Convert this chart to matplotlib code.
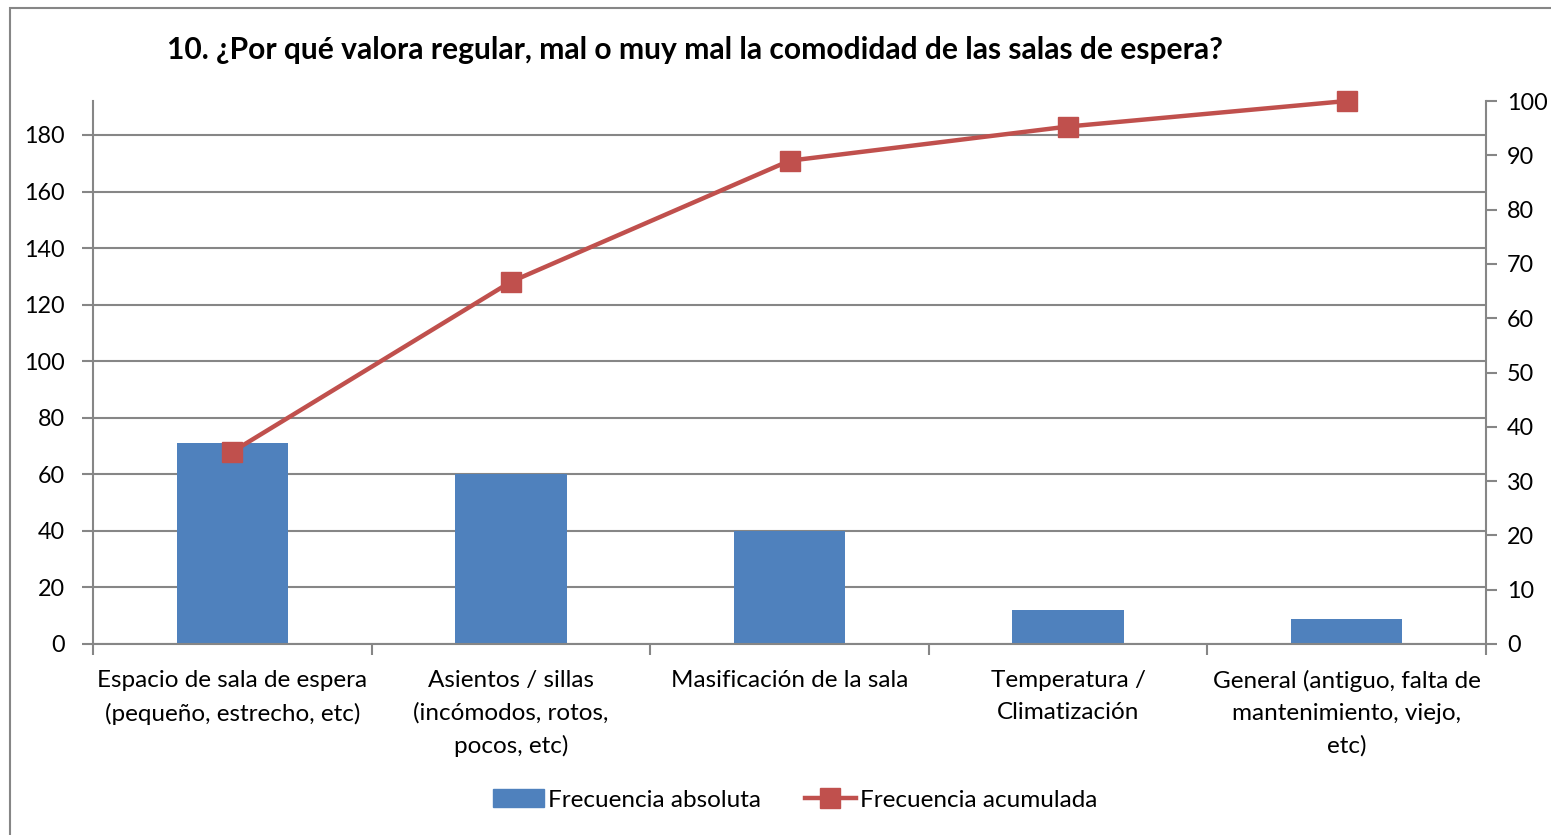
import matplotlib
matplotlib.use("Agg")
import matplotlib.pyplot as plt
from matplotlib.patches import Rectangle
from matplotlib.lines import Line2D
import numpy as np

plt.rcParams['font.family'] = ['Lato', 'DejaVu Sans']

title = "10. ¿Por qué valora regular, mal o muy mal la comodidad de las salas de espera?"
categories = [
    "Espacio de sala de espera\n(pequeño, estrecho, etc)",
    "Asientos / sillas\n(incómodos, rotos,\npocos, etc)",
    "Masificación de la sala",
    "Temperatura /\nClimatización",
    "General (antiguo, falta de\nmantenimiento, viejo,\netc)",
]
freq_abs = [71, 60, 40, 12, 9]
freq_acum = [35.4, 66.7, 89.0, 95.3, 100.0]
left_ticks = [0, 20, 40, 60, 80, 100, 120, 140, 160, 180]
right_ticks = [0, 10, 20, 30, 40, 50, 60, 70, 80, 90, 100]
legend_labels = ["Frecuencia absoluta", "Frecuencia acumulada"]

W, H = 1551, 835
fig = plt.figure(figsize=(W / 100, H / 100), dpi=100)
fig.patch.set_facecolor('white')

# outer chart border (extends past image right/bottom)
fig.add_artist(Rectangle((10 / W, -0.05), 1.2, 1 - 8 / H + 0.05,
                         transform=fig.transFigure, fill=False,
                         edgecolor='#868686', linewidth=1.5))

ax = fig.add_axes([93 / W, 1 - 644 / H, (1486 - 93) / W, (644 - 101) / H])
ax2 = ax.twinx()

x = np.arange(len(categories))
grid_c = '#868686'
ax.bar(x, freq_abs, width=0.40, color='#4F81BD', zorder=2)
ax.set_xlim(-0.5, len(categories) - 0.5)
ax.set_ylim(0, 192)
ax.set_yticks(left_ticks)
ax.yaxis.grid(True, color=grid_c, linewidth=1.5, zorder=0)
ax.set_axisbelow(True)

ax2.plot(x, freq_acum, color='#C0504D', linewidth=3.2, marker='s',
         markersize=14, markerfacecolor='#C0504D', markeredgecolor='#C0504D',
         zorder=3, clip_on=False)
ax2.set_ylim(0, 100)
ax2.set_yticks(right_ticks)

for a in (ax, ax2):
    a.spines['top'].set_visible(False)
    for s in ('left', 'right', 'bottom'):
        a.spines[s].set_color(grid_c)
        a.spines[s].set_linewidth(1.5)
ax.spines['right'].set_visible(False)
ax2.spines['left'].set_visible(False)
ax2.spines['bottom'].set_visible(False)

fs = 17.5
yfs = 16.8
ax.set_xticks(x)
ax.set_xticklabels(categories, fontsize=fs, linespacing=1.62)
ax.tick_params(axis='x', length=0, pad=19)
ax.set_xticks(np.arange(len(categories) + 1) - 0.5, minor=True)
ax.tick_params(axis='x', which='minor', length=8, width=1.5, color=grid_c)
ax.tick_params(axis='y', length=8, width=1.5, color=grid_c, labelsize=yfs, pad=12)
ax2.tick_params(axis='y', length=8, width=1.5, color=grid_c, labelsize=yfs, pad=7)

fig.text(695 / W, 1 - 50 / H, title, ha='center', va='center',
         fontsize=21.6, fontweight='bold')

handles = [Rectangle((0, 0), 1, 1, color='#4F81BD'),
           Line2D([0], [0], color='#C0504D', linewidth=3.2, marker='s',
                  markersize=14)]
fig.legend(handles, legend_labels, loc='center', bbox_to_anchor=(795 / W, 1 - 800 / H),
           ncol=2, frameon=False, fontsize=fs, handlelength=2.1,
           handletextpad=0.16, columnspacing=1.8)

fig.savefig('out.png', dpi=100)
